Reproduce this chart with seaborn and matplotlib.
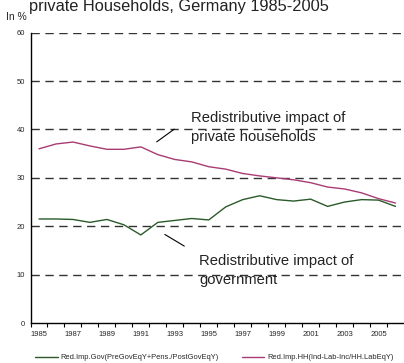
import matplotlib
matplotlib.use("Agg")
import matplotlib.pyplot as plt
import seaborn as sns
import pandas as pd
from matplotlib.lines import Line2D

years = list(range(1985, 2007))
gov = [21.5, 21.5, 21.4, 20.8, 21.4, 20.3, 18.2, 20.8, 21.2, 21.6, 21.3,
       24.0, 25.5, 26.3, 25.5, 25.2, 25.6, 24.1, 25.0, 25.5, 25.4, 24.1]
hh = [36.0, 37.0, 37.4, 36.6, 35.9, 35.9, 36.4, 34.8, 33.8, 33.3, 32.3,
      31.8, 30.9, 30.4, 30.0, 29.6, 29.0, 28.1, 27.7, 26.9, 25.7, 24.8]
series_names = ["Red.Imp.Gov(PreGovEqY+Pens./PostGovEqY)",
                "Red.Imp.HH(Ind-Lab-Inc/HH.LabEqY)"]
colors = ["#2b5a2b", "#a83c72"]
yticks = [0, 10, 20, 30, 40, 50, 60]
xlabels = list(range(1985, 2006, 2))

df = pd.DataFrame({
    "year": years * 2,
    "value": gov + hh,
    "series": [series_names[0]] * len(years) + [series_names[1]] * len(years),
})

sns.set_style("white")
plt.rcParams["font.family"] = ["Liberation Sans", "DejaVu Sans"]

fig = plt.figure(figsize=(4.04, 3.63), dpi=100)
ax = fig.add_axes([30.5 / 404, 1 - 323 / 363, 1 - 30.5 / 404, (323 - 32.7) / 363])

sns.lineplot(data=df, x="year", y="value", hue="series", palette=colors,
             linewidth=1.0, ax=ax, legend=False)

ax.set_xlim(1984.5, 2006.5)
ax.set_ylim(0, 60)
for y in yticks[1:]:
    ax.axhline(y, color="#333333", lw=1.0, ls=(0, (6, 4)), zorder=0)

ax.set_yticks(yticks)
ax.set_yticklabels([str(v) for v in yticks], fontsize=5.5)
ax.tick_params(axis="y", length=0, pad=4)

ax.set_xticks([y - 0.5 for y in years], labels=[""] * len(years))
ax.set_xticks(xlabels, minor=True)
ax.set_xticklabels([str(v) for v in xlabels], minor=True, fontsize=5.5)
ax.tick_params(axis="x", which="major", direction="out", length=3, width=0.8, color="black", bottom=True)
ax.tick_params(axis="x", which="minor", length=0, pad=6)
ax.set_xlabel("")
ax.set_ylabel("")

for s in ["top", "right"]:
    ax.spines[s].set_visible(False)
for s in ["left", "bottom"]:
    ax.spines[s].set_color("black")
    ax.spines[s].set_linewidth(1.0)

fig.text(29 / 404, 1 - 10.5 / 363, "private Households, Germany 1985-2005",
         fontsize=11.8, ha="left", va="baseline", color="#222222")
fig.text(6 / 404, 1 - 20.5 / 363, "In %", fontsize=7.5, ha="left", va="baseline")

# annotations
ax.annotate("", xy=(1991.8, 37.1), xytext=(1993.1, 40.4),
            arrowprops=dict(arrowstyle="-", color="black", lw=0.8))
ax.text(1993.97, 43.9, "Redistributive impact of\nprivate households", fontsize=10.6,
        ha="left", va="top", linespacing=1.45, color="#222222")
ax.annotate("", xy=(1992.27, 18.6), xytext=(1993.7, 15.6),
            arrowprops=dict(arrowstyle="-", color="black", lw=0.8))
ax.text(1994.44, 14.3, "Redistributive impact of\ngovernment", fontsize=10.6,
        ha="left", va="top", linespacing=1.45, color="#222222")

# legend
handles = [Line2D([], [], color=c, lw=1.0) for c in colors]
fig.legend(handles, series_names, loc="lower left", bbox_to_anchor=(30 / 404, -0.01),
           ncol=2, frameon=False, fontsize=5.4, handlelength=3.0, handletextpad=0.4,
           columnspacing=3.0, borderaxespad=0.3)

fig.savefig("out.png", dpi=100)
